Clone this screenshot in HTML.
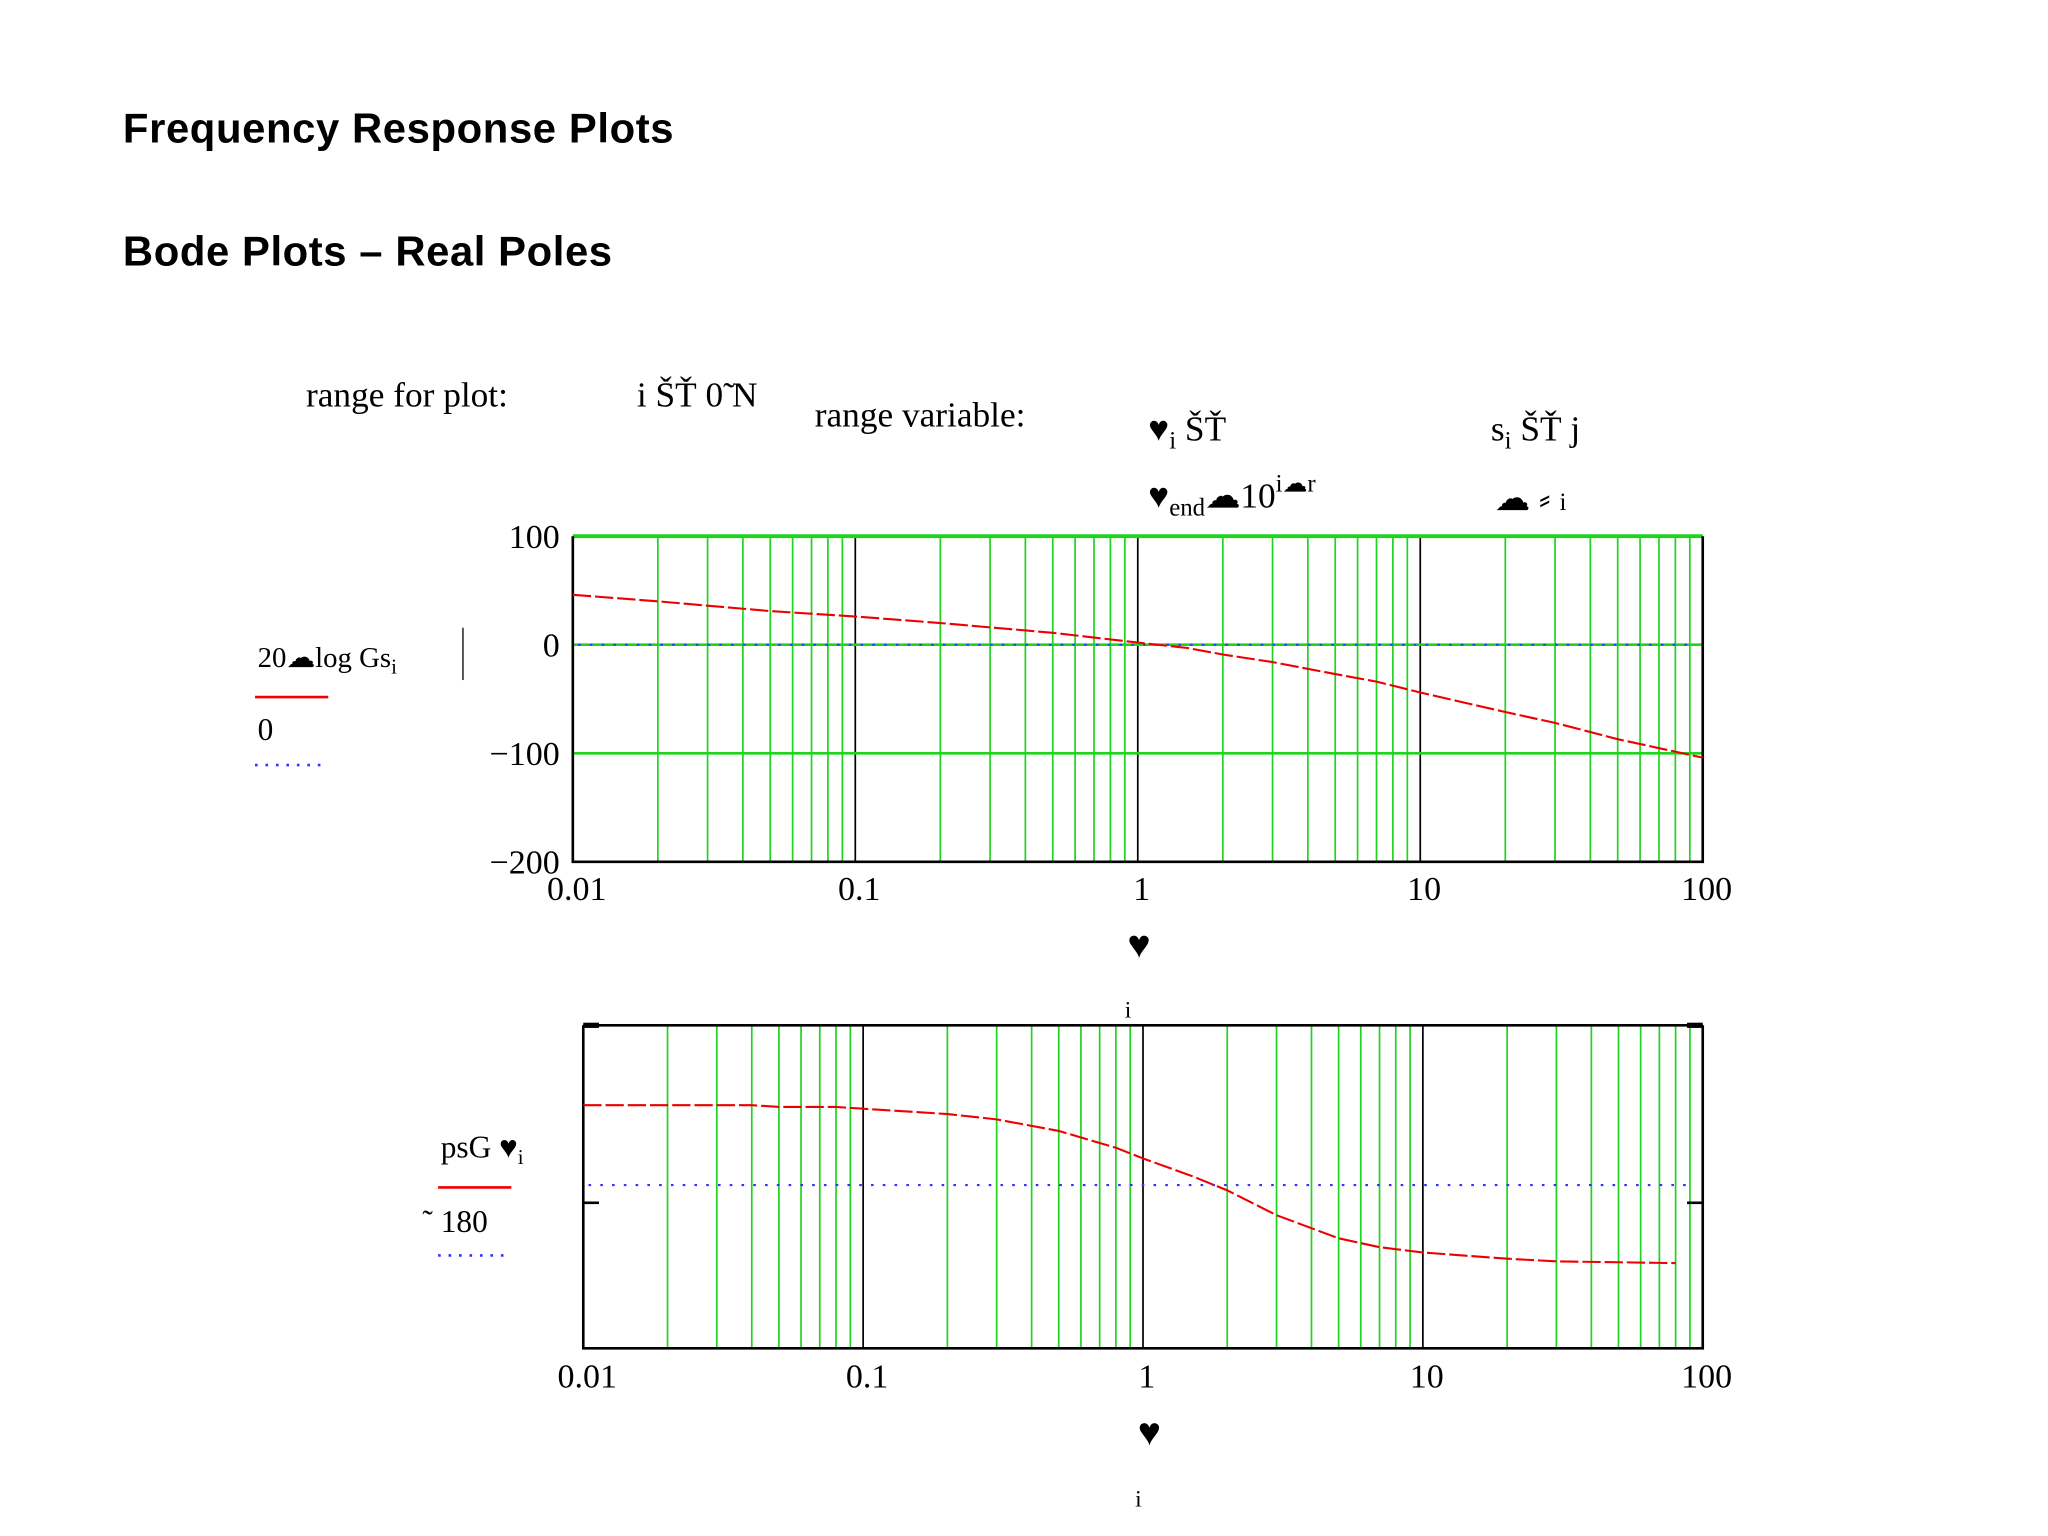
<!DOCTYPE html>
<html><head><meta charset="utf-8"><style>
html,body{margin:0;padding:0;background:#fff}
svg{display:block}
.ser{font-family:"Liberation Serif",serif;fill:#000}
.ttl{font-family:"Liberation Sans",sans-serif;font-weight:bold;fill:#000}
</style></head><body>
<svg id="page" width="2048" height="1536" viewBox="0 0 1566 1174.5" xmlns="http://www.w3.org/2000/svg">
<text class="ttl" x="94" y="109" font-size="32" textLength="421">Frequency Response Plots</text>
<text class="ttl" x="94" y="203" font-size="32" textLength="374">Bode Plots – Real Poles</text>
<text class="ser" x="234" y="311" font-size="27">range for plot:</text>
<text class="ser" x="487" y="311" font-size="27">i ŠŤ  0̃  N</text>
<text class="ser" x="623" y="326" font-size="27">range variable:</text>
<text class="ser" x="878" y="337" font-size="27">♥<tspan font-size="19" dy="6">i</tspan><tspan dy="-6"> ŠŤ</tspan></text>
<text class="ser" x="878" y="388" font-size="27">♥<tspan font-size="19" dy="6">end</tspan><tspan dy="-6">☁10</tspan><tspan font-size="19" dy="-12">i☁r</tspan></text>
<text class="ser" x="1140" y="337" font-size="27">s<tspan font-size="19" dy="6">i</tspan><tspan dy="-6"> ŠŤ  j</tspan></text>
<text class="ser" x="1143" y="390" font-size="27">☁  ⸗ <tspan font-size="19">i</tspan></text>
<g id="mag"></g>
<g id="ph"></g>
<text class="ser" x="197" y="510" font-size="22">20☁log  Gs<tspan font-size="16" dy="5">i</tspan></text>
<line x1="354" y1="480" x2="354" y2="520" stroke="#000" stroke-width="1"/>
<line x1="195" y1="533" x2="251" y2="533" stroke="#e00" stroke-width="2"/>
<text class="ser" x="197" y="566" font-size="24">0</text>
<line x1="195" y1="585" x2="245" y2="585" stroke="#33f" stroke-width="2" stroke-dasharray="2 6"/>
<text class="ser" x="862" y="732" font-size="30">♥</text>
<text class="ser" x="860" y="778" font-size="18">i</text>
<text class="ser" x="337" y="885" font-size="24">psG  ♥<tspan font-size="16" dy="5">i</tspan></text>
<line x1="335" y1="908" x2="391" y2="908" stroke="#e00" stroke-width="2"/>
<text class="ser" x="323" y="942" font-size="24">˜  180</text>
<line x1="335" y1="960" x2="385" y2="960" stroke="#33f" stroke-width="2" stroke-dasharray="2 6"/>
<text class="ser" x="870" y="1105" font-size="30">♥</text>
<text class="ser" x="868" y="1152" font-size="18">i</text>
</svg>
<script>
const magW=[0.01,0.02,0.03,0.05,0.1,0.2,0.3,0.5,1,1.5,2,3,5,7,10,20,30,50,100];
const magDb=[46,40,36,31,26,20,16,11,2,-3,-9,-16,-27,-34,-44,-62,-72,-87,-104];
const phW=[0.01,0.02,0.04,0.05,0.08,0.1,0.2,0.3,0.5,0.8,1,1.5,2,3,5,7,10,20,30,50,80];
const phDeg=[-90,-90,-90,-92,-92,-94,-100,-106,-119,-138,-150,-170,-186,-214,-240,-250,-256,-263,-266,-267,-268];
const magYTicks=[100,0,-100,-200];
const xTickLabels=["0.01","0.1","1","10","100"];
const NS="http://www.w3.org/2000/svg";
function mk(parent,tag,attrs){const e=document.createElementNS(NS,tag);for(const k in attrs)e.setAttribute(k,attrs[k]);parent.appendChild(e);return e;}
function plot(g,L,R,T,B,ymax,ymin,ws,vs,hGreen,yTicks,labelY,refVal,isMag){
  const dec=(R-L)/4;
  const X=w=>L+(Math.log10(w)+2)*dec;
  const Y=v=>T+(ymax-v)/(ymax-ymin)*(B-T);
  for(let d=-2;d<2;d++)for(let m=2;m<10;m++){
    const l=mk(g,'line',{x1:X(m*Math.pow(10,d)),x2:X(m*Math.pow(10,d)),y1:T,y2:B,stroke:'#1fd41f','stroke-width':1.3});
    
    
  }
  for(let d=-1;d<2;d++){
    const l=mk(g,'line',{x1:X(Math.pow(10,d)),x2:X(Math.pow(10,d)),y1:T,y2:B,stroke:'#000','stroke-width':1.3});
    
    
  }
  hGreen.forEach(v=>{
    const l=mk(g,'line',{x1:L,x2:R,y1:Y(v),y2:Y(v),stroke:'#1fd41f','stroke-width':v===ymax?3:2});
    
    
  });
  const fr=mk(g,'path',{d:`M${L},${T}V${B}H${R}V${T}`+(isMag?'':`M${L},${T}H${R}`),fill:'none',stroke:'#000','stroke-width':2});
  
  
  if(!isMag){
    [L,R].forEach(x=>{
      const t=mk(g,'line',{x1:x-(x===L?0:12),x2:x+(x===L?12:0),y1:Y(-200),y2:Y(-200),stroke:'#000','stroke-width':2});
      
      
      const t2=mk(g,'line',{x1:x-(x===L?0:12),x2:x+(x===L?12:0),y1:T,y2:T,stroke:'#000','stroke-width':4});
      
      
    });
  }
  const rl=mk(g,'line',{x1:L+4,x2:R-6,y1:Y(refVal),y2:Y(refVal),stroke:'#33f','stroke-width':1.6,'stroke-dasharray':'2 7'});
  
  
  const p=mk(g,'polyline',{points:ws.map((w,i)=>X(w)+','+Y(vs[i])).join(' '),fill:'none',stroke:'#e00','stroke-width':1.6,'stroke-dasharray':'14 3'});
  
  
  yTicks.forEach(v=>{
    const t=mk(g,'text',{x:L-10,y:Y(v)+9,'text-anchor':'end','font-size':26,'class':'ser'});
    t.textContent=(v<0?'\u2212':'')+Math.abs(v);
    
    
  });
  xTickLabels.forEach((s,i)=>{
    const t=mk(g,'text',{x:L+i*dec+3,y:labelY,'text-anchor':'middle','font-size':26,'class':'ser'});
    t.textContent=s;
    
    
  });
}
plot(document.getElementById('mag'),438,1302,410,659,100,-200,magW,magDb,[100,0,-100],magYTicks,688,0,true);
plot(document.getElementById('ph'),446,1302,784,1031,0,-364,phW,phDeg,[],[],1061,-180,false);
</script>
</body></html>
